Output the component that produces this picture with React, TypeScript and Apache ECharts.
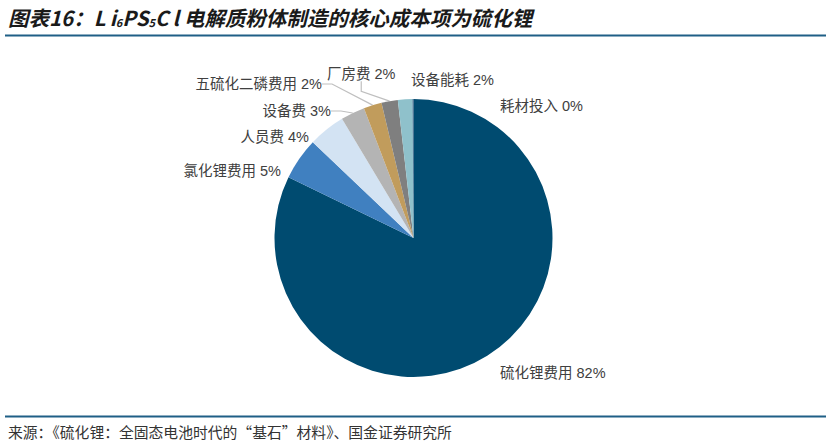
import React, { useEffect, useRef } from "react";
import * as echarts from "echarts";

const categories = [
  "硫化锂费用",
  "氯化锂费用",
  "人员费",
  "设备费",
  "五硫化二磷费用",
  "厂房费",
  "设备能耗",
  "耗材投入",
];
const values = [82.2, 4.9, 4.3, 2.8, 2.1, 1.9, 1.7, 0.1];
const labelTexts = ["82%", "5%", "4%", "3%", "2%", "2%", "2%", "0%"];
const colors = ["#004B70", "#4080C0", "#D3E3F3", "#B4B4B4", "#C19C5C", "#7F7F7F", "#8FC1CB", "#1F4E79"];
const showLine = [false, false, false, true, true, true, false, false];

// label anchor placement (style/layout only)
const labelPlace: { x: number; y: number; align: "left" | "right" }[] = [
  { x: 500, y: 373, align: "left" },
  { x: 281, y: 171, align: "right" },
  { x: 309, y: 137, align: "right" },
  { x: 331, y: 111, align: "right" },
  { x: 322, y: 84, align: "right" },
  { x: 327, y: 74, align: "left" },
  { x: 411, y: 80, align: "left" },
  { x: 500, y: 106, align: "left" },
];

const TITLE_FONT = "'Noto Sans CJK SC', 'Liberation Sans', sans-serif";
const LABEL_FONT = "'Liberation Sans', 'Noto Sans CJK SC', sans-serif";

export default function App() {
  const ref = useRef<HTMLDivElement>(null);
  useEffect(() => {
    if (!ref.current) return;
    const chart = echarts.init(ref.current, undefined, { renderer: "svg" });
    const tA = {
      fontSize: 20.5,
      fontWeight: "bold",
      fontStyle: "italic",
      fontFamily: TITLE_FONT,
      fill: "#1a1a1a",
      verticalAlign: "bottom",
      lineHeight: 24,
    };
    chart.setOption({
      animation: false,
      backgroundColor: "#ffffff",
      graphic: [
        {
          type: "text",
          left: 8,
          top: 7,
          style: {
            text: "{a|图表16：L\u2009i}{s|6}{a|PS}{s|5}{a|C\u2009l 电解质粉体制造的核心成本项为硫化锂}",
            rich: {
              a: tA,
              s: {
                fontSize: 11,
                fontWeight: "bold",
                fontStyle: "italic",
                fontFamily: TITLE_FONT,
                fill: "#1a1a1a",
                verticalAlign: "bottom",
                lineHeight: 20,
              },
            },
          },
        },
        {
          type: "line",
          shape: { x1: 5, y1: 35.5, x2: 826, y2: 35.5 },
          style: { stroke: "#1F5F86", lineWidth: 2 },
        },
        {
          type: "line",
          shape: { x1: 5, y1: 416.5, x2: 826, y2: 416.5 },
          style: { stroke: "#1F5F86", lineWidth: 2 },
        },
        {
          type: "text",
          left: 8,
          top: 424,
          style: {
            text: "来源：《硫化锂：全固态电池时代的“基石”材料》、国金证券研究所",
            fontSize: 14.8,
            fontFamily: TITLE_FONT,
            fill: "#333333",
          },
        },
      ],
      series: [
        {
          type: "pie",
          center: [413.5, 238],
          radius: 139,
          startAngle: 90,
          clockwise: true,
          avoidLabelOverlap: false,
          minAngle: 0,
          data: categories.map((name, i) => ({
            name,
            value: values[i],
            itemStyle: { color: colors[i] },
            labelLine: {
              show: showLine[i],
              length: 10,
              length2: 10,
              lineStyle: { color: "#BFBFBF", width: 1.2 },
            },
            label: {
              formatter: `${name} ${labelTexts[i]}`,
            },
          })),
          label: {
            show: true,
            position: "outside",
            fontSize: 14.5,
            fontFamily: LABEL_FONT,
            color: "#404040",
          },
          labelLine: { show: true, smooth: false },
          labelLayout: (params: any) => {
            const p = labelPlace[params.dataIndex];
            return { x: p.x, y: p.y, align: p.align, verticalAlign: "middle" };
          },
          emphasis: { disabled: true },
        },
      ],
    });
    return () => chart.dispose();
  }, []);
  return (
    <div
      ref={ref}
      style={{ position: "fixed", left: 0, top: 0, width: 831, height: 447 }}
    />
  );
}
